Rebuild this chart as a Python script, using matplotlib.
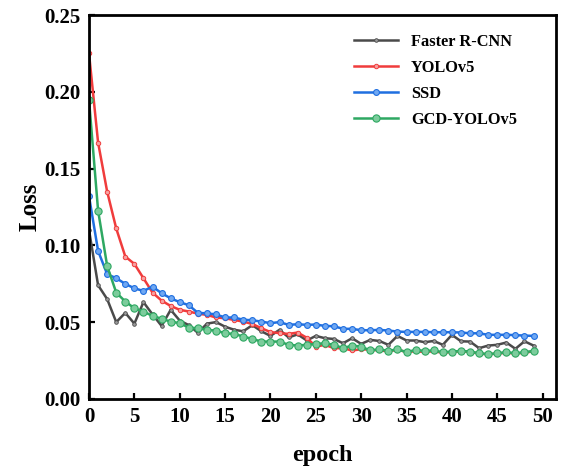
import matplotlib
matplotlib.use("Agg")
import matplotlib.pyplot as plt
import numpy as np

plt.rcParams['font.family'] = ['Liberation Serif', 'DejaVu Serif']
plt.rcParams['font.weight'] = 'bold'

# loss values, epochs 0-49
epoch = np.arange(50)
faster_rcnn = [0.110, 0.074, 0.065, 0.050, 0.056, 0.049, 0.063, 0.055, 0.0475, 0.058,
               0.051, 0.048, 0.043, 0.049, 0.050, 0.047, 0.045, 0.044, 0.048, 0.044,
               0.041, 0.045, 0.040, 0.042, 0.038, 0.041, 0.0395, 0.039, 0.0362, 0.0395,
               0.0358, 0.0384, 0.0377, 0.0352, 0.041, 0.038, 0.038, 0.0369, 0.0377, 0.0352,
               0.0417, 0.0375, 0.0373, 0.033, 0.0347, 0.0352, 0.0367, 0.0326, 0.0375, 0.0347]
yolov5 = [0.225, 0.167, 0.135, 0.111, 0.0927, 0.0879, 0.0786, 0.0692, 0.064, 0.0605,
          0.058, 0.0569, 0.0555, 0.0547, 0.053, 0.0525, 0.0514, 0.0503, 0.0488, 0.046,
          0.0435, 0.0428, 0.0423, 0.0432, 0.0398, 0.034, 0.0352, 0.033, 0.033, 0.0315,
          0.0323, 0.032, 0.0315, 0.031, 0.032, 0.0305, 0.031, 0.0305, 0.031, 0.030,
          0.0305, 0.031, 0.0305, 0.0295, 0.029, 0.0295, 0.030, 0.0295, 0.030, 0.031]
ssd = [0.132, 0.0964, 0.0812, 0.0786, 0.0749, 0.072, 0.0703, 0.0731, 0.0688, 0.0655,
       0.063, 0.061, 0.056, 0.0557, 0.055, 0.053, 0.053, 0.0515, 0.0512, 0.0503,
       0.0493, 0.050, 0.0482, 0.0486, 0.0482, 0.0484, 0.0475, 0.0473, 0.0456, 0.0456,
       0.0447, 0.0447, 0.0449, 0.0445, 0.0438, 0.0436, 0.0436, 0.0436, 0.0434, 0.0434,
       0.0434, 0.0432, 0.0427, 0.0427, 0.0417, 0.0417, 0.0417, 0.0415, 0.0412, 0.041]
gcd_yolov5 = [0.1947, 0.1226, 0.0866, 0.0692, 0.0634, 0.059, 0.0569, 0.054, 0.0522, 0.0503,
              0.0493, 0.0464, 0.046, 0.0449, 0.0445, 0.0427, 0.0423, 0.0406, 0.039, 0.0373,
              0.0373, 0.0373, 0.0352, 0.0347, 0.0352, 0.0358, 0.0362, 0.0352, 0.033, 0.0347,
              0.034, 0.0315, 0.0323, 0.0312, 0.0323, 0.0304, 0.0319, 0.0312, 0.0315, 0.0304,
              0.0308, 0.0312, 0.0308, 0.0297, 0.0291, 0.0297, 0.0304, 0.0297, 0.0304, 0.0312]

fig = plt.figure(figsize=(5.67, 4.72), dpi=100)
ax = fig.add_axes([0.157, 0.155, 0.824, 0.813])

ax.plot(epoch, faster_rcnn, color='#4a4a4a', lw=1.8, marker='o', ms=2.6,
        mfc='#9a9a9a', mec='#4a4a4a', mew=0.6, label='Faster R-CNN')
ax.plot(epoch, yolov5, color='#f03c3c', lw=1.8, marker='o', ms=3.2,
        mfc='#f7a0a0', mec='#f03c3c', mew=0.7, label='YOLOv5')
ax.plot(epoch, ssd, color='#1f6fe0', lw=1.8, marker='o', ms=4.2,
        mfc='#70a8f2', mec='#1f6fe0', mew=0.8, label='SSD')
ax.plot(epoch, gcd_yolov5, color='#2ea862', lw=1.8, marker='o', ms=5.2,
        mfc='#7ccc9c', mec='#2ea862', mew=0.8, label='GCD-YOLOv5')

ax.set_xlim(0, 51.5)
ax.set_ylim(0, 0.25)
ax.set_xticks(np.arange(0, 51, 5))
ax.set_yticks(np.arange(0, 0.26, 0.05))
ax.set_yticklabels(['%.2f' % v for v in np.arange(0, 0.26, 0.05)])
ax.tick_params(direction='in', width=1.6, length=4, labelsize=15, pad=6,
               top=False, right=False)
for lbl in ax.get_xticklabels() + ax.get_yticklabels():
    lbl.set_fontweight('bold')
for s in ax.spines.values():
    s.set_linewidth(2)

ax.set_xlabel('epoch', fontsize=17.5, fontweight='bold', labelpad=13)
ax.set_ylabel('Loss', fontsize=18, fontweight='bold', labelpad=2)

ax.legend(loc='upper right', frameon=False, prop={'size': 11.8, 'weight': 'bold'},
          handlelength=2.7, labelspacing=0.62, bbox_to_anchor=(0.948, 0.99))

fig.savefig('out.png', dpi=100)
